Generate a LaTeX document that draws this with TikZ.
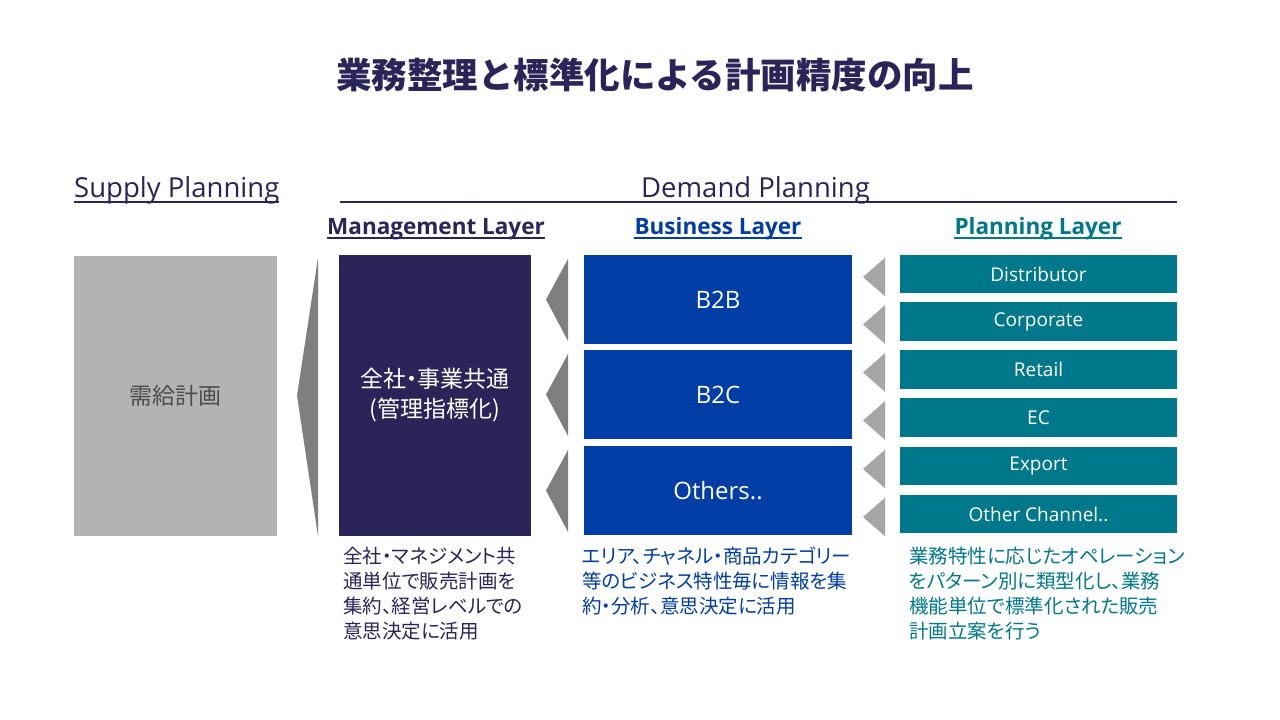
\documentclass[tikz,border=0pt]{standalone}
\usepackage{fontspec}
\setmainfont{Open Sans}
\newfontfamily\jp[RawFeature=+palt]{Noto Sans CJK JP}
\newfontfamily\jpt{Noto Sans CJK JP}
\usetikzlibrary{calc}
\definecolor{navy}{HTML}{2B2459}
\definecolor{bblue}{HTML}{003DA5}
\definecolor{teal2}{HTML}{00788C}
\definecolor{sgray}{HTML}{B3B3B3}
\definecolor{dgray}{HTML}{7F7F7F}
\definecolor{lgray}{HTML}{A6A6A6}
\definecolor{txtgray}{HTML}{4D4D4D}
\begin{document}
\begin{tikzpicture}[x=1pt,y=-1pt,
  shp/.style={draw=none, inner sep=0pt, outer sep=0pt, align=center},
  bizbox/.style={shp, fill=bblue, minimum width=268pt, minimum height=89pt, text=white, font=\fontsize{24}{28}\selectfont},
  planbox/.style={shp, fill=teal2, minimum width=277pt, minimum height=38.5pt, text=white, font=\fontsize{19}{22}\selectfont},
  head/.style={inner sep=0pt, font=\fontsize{27.5}{32}\selectfont, text=navy},
  layer/.style={inner sep=0pt, font=\bfseries\fontsize{22.5}{26}\selectfont},
  desc/.style={inner sep=0pt, align=left, anchor=north west, font=\jp\fontsize{19.5}{25}\selectfont},
  ul/.style={line width=1.3pt}
]
\useasboundingbox[fill=white] (0,0) rectangle (1280,720);

% title
\node[inner sep=0pt, font=\jpt\bfseries\fontsize{35.5}{42}\selectfont, text=navy] (title) at (655,75) {業務整理と標準化による計画精度の向上};

% headings
\node[head, anchor=base west] (sp) at (74,197) {Supply Planning};
\draw[navy, ul] ([yshift=-5pt]sp.base west) -- ([yshift=-5pt]sp.base east);
\node[head, anchor=base] (dp) at (755.5,197) {Demand Planning};
\coordinate (dl1) at (340,202);
\coordinate (dl2) at (1177,202);
\draw[navy, ul] (dl1) -- (dl2);

\node[layer, anchor=base, text=navy] (ml) at (436,234) {Management Layer};
\draw[navy, ul] ([yshift=-4pt]ml.base west) -- ([yshift=-4pt]ml.base east);
\node[layer, anchor=base, text=bblue] (bl) at (718,234) {Business Layer};
\draw[bblue, ul] ([yshift=-4pt]bl.base west) -- ([yshift=-4pt]bl.base east);
\node[layer, anchor=base, text=teal2] (pl) at (1038,234) {Planning Layer};
\draw[teal2, ul] ([yshift=-4pt]pl.base west) -- ([yshift=-4pt]pl.base east);

% boxes
\node[shp, fill=sgray, minimum width=203pt, minimum height=280pt, text=txtgray, font=\jpt\fontsize{23}{26}\selectfont] (sup) at (175.5,396) {需給計画};
\node[shp, fill=navy, minimum width=192pt, minimum height=281pt, text=white, font=\jp\fontsize{23}{30}\selectfont] (mg) at (435,395.5) {全社・事業共通\\(管理指標化)};

\node[bizbox] (b1) at (718,299.5) {B2B};
\node[bizbox] (b2) at (718,394.5) {B2C};
\node[bizbox] (b3) at (718,490.5) {Others..};

\node[planbox] (p1) at (1038.5,274) {Distributor};
\node[planbox] (p2) at (1038.5,321.5) {Corporate};
\node[planbox] (p3) at (1038.5,369.5) {Retail};
\node[planbox] (p4) at (1038.5,417.5) {EC};
\node[planbox] (p5) at (1038.5,466) {Export};
\node[planbox] (p6) at (1038.5,514) {Other Channel..};

% triangles
\fill[dgray] ($(mg.north west)+(-21,3)$) -- ($(mg.south west)+(-21,0)$) -- ($(mg.west)+(-42,0)$) -- cycle;
\foreach \b in {b1,b2,b3}{
  \fill[dgray] ($(\b.north west)+(-16,4)$) -- ($(\b.south west)+(-16,-3)$) -- ($(\b.west)+(-38,0)$) -- cycle;
}
\foreach \p in {p1,p2,p3,p4,p5,p6}{
  \fill[lgray] ($(\p.north west)+(-15,3)$) -- ($(\p.south west)+(-15,3)$) -- ($(\p.west)+(-37,3)$) -- cycle;
}

% descriptions
\node[desc, text=navy] (md) at (343,547) {全社・マネジメント共\\通単位で販売計画を\\集約、経営レベルでの\\意思決定に活用};
\node[desc, text=bblue] (bd) at (582,547) {エリア、チャネル・商品カテゴリー\\等のビジネス特性毎に情報を集\\約・分析、意思決定に活用};
\node[desc, text=teal2] (pd) at (909,547) {業務特性に応じたオペレーション\\をパターン別に類型化し、業務\\機能単位で標準化された販売\\計画立案を行う};
\end{tikzpicture}
\end{document}
